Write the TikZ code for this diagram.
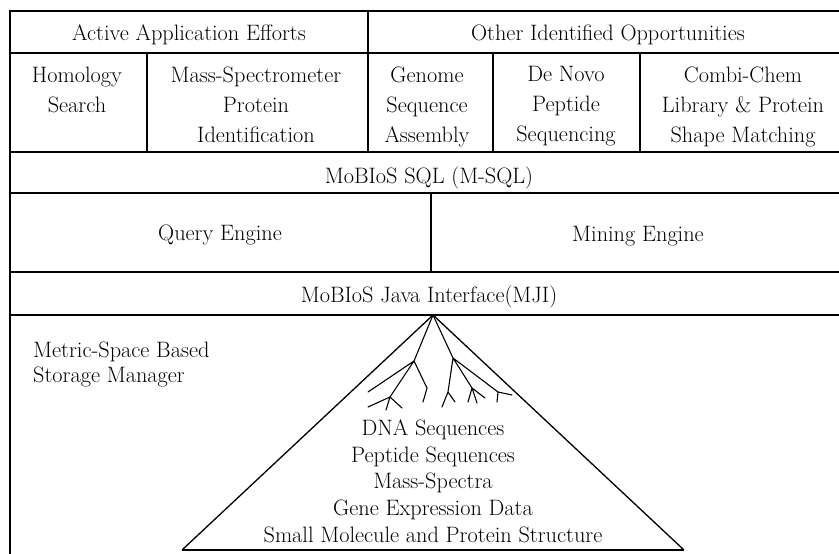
\documentclass[tikz,border=0pt]{standalone}
\begin{document}
\begin{tikzpicture}[x=1pt,y=-1pt,
	txt/.style={font=\fontsize{22.3}{#1}\selectfont,align=center,inner sep=0pt},
	txt/.default=27,
	heavy/.style={line width=2.6pt},
	rule/.style={line width=1.3pt},
	twig/.style={line width=1.1pt,line join=round,line cap=round}]
	\useasboundingbox (0,0) rectangle (839,554);
	\clip (0,0) rectangle (839,554);
	% frame and layers
	\foreach \y/\w in {11/2.6,152/2.6,272/2.6,53/1.3,193/1.3,315/1.3} \draw[line width=\w pt] (10,\y) -- (850,\y);
	\draw[heavy] (10,9.7) -- (10,560);
	\foreach \x/\a/\b in {368/11/152,147/53/152,493/53/152,640/53/152,431/193/272} \draw[rule] (\x,\a) -- (\x,\b);
	% storage pyramid
	\path 
	(433,315) coordinate (apex)
	(182,550) coordinate (bl) (684,550) coordinate (br)
	(414,361) coordinate (fl) (453,358) coordinate (fr)
	(390,397) coordinate (l2) (427,388) coordinate (l3)
	(448,392) coordinate (r1) (472,388) coordinate (r2) (498,392) coordinate (r3)
	;
	\draw[rule] (bl)--(apex)--(br);
	\draw[line width=1.8pt] (bl)--(br);
	\draw[twig] (apex)--(fl)--(368,392) (fl)--(l2)--(368,407) (l2)--(386,410) (l2)--(402,408) (fl)--(l3)--(423,402)
	(apex)--(fr)--(r1)--(442,407) (r1)--(455,402) (fr)--(r2)--(468,402) (r2)--(477,403) (r2)--(485,398)
	(fr)--(r3)--(512,395) (r3)--(497,402);
	% labels
	\node[txt,anchor=base] (active) at (189,40) {Active Application Efforts};
	\node[txt,anchor=base] (other) at (608,40) {Other Identified Opportunities};
	\node[txt=30,anchor=north] (homology) at (77,66.5) {Homology\\Search};
	\node[txt=30,anchor=north] (massspec) at (256,66.5) {Mass-Spectrometer\\Protein\\Identification};
	\node[txt=30,anchor=north] (genome) at (427,66.5) {Genome\\Sequence\\Assembly};
	\node[txt=30,anchor=north] (denovo) at (566,66.5) {De Novo\\Peptide\\Sequencing};
	\node[txt=30,anchor=north] (combichem) at (743,66.5) {Combi-Chem\\Library \& Protein\\Shape Matching};
	\node[txt,anchor=base] (msql) at (429,183) {MoBIoS SQL (M-SQL)};
	\node[txt,anchor=base] (query) at (220,240) {Query Engine};
	\node[txt,anchor=base] (mining) at (638,241) {Mining Engine};
	\node[txt,anchor=base] (mji) at (429,302) {MoBIoS Java Interface(MJI)};
	\node[txt=25,align=left,anchor=north west] (storage) at (33,341.5) {Metric-Space Based\\Storage Manager};
	\node[txt=26.75,anchor=north] (data) at (433,419.5) {DNA Sequences\\Peptide Sequences\\Mass-Spectra\\Gene Expression Data\\Small Molecule and Protein Structure};
\end{tikzpicture}
\end{document}
